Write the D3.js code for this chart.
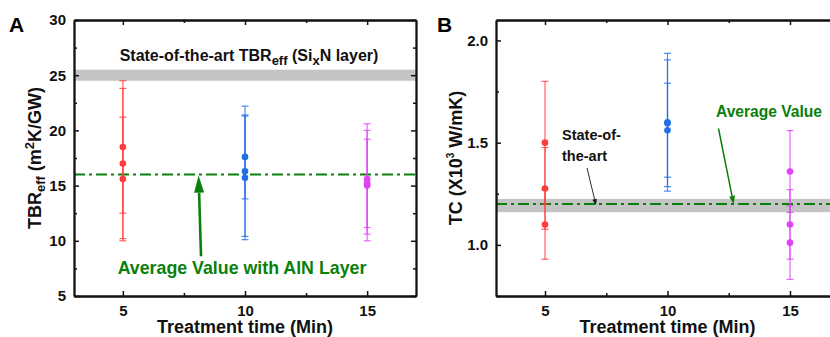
<!DOCTYPE html>
<html><head><meta charset="utf-8">
<script src="https://cdn.jsdelivr.net/npm/d3@7"></script>
<style>
html,body{margin:0;padding:0;background:#fff;}
svg{display:block;font-family:"Liberation Sans",Arial,sans-serif;font-weight:bold;}
</style></head>
<body><svg id="c" width="830" height="337"></svg>
<script>
// ---- data ----
const times = [5, 10, 15];
const seriesNames = ["red", "blue", "magenta"];
// Panel A: TBR_eff (m^2K/GW)
const tbrRed = [18.5, 17.0, 15.6];
const tbrRedErr = [6.0, 6.8, 5.6];
const tbrBlue = [17.6, 16.3, 15.7];
const tbrBlueErr = [3.8, 5.9, 5.6];
const tbrMagenta = [15.6, 15.0, 15.2];
const tbrMagentaErr = [5.0, 5.0, 4.0];
const tbrAverage = 16.0;
const tbrStateBand = [24.5, 25.5];
const tbrTicks = [5, 10, 15, 20, 25, 30];
const tbrMinorTicks = [7.5, 12.5, 17.5, 22.5, 27.5];
// Panel B: TC (x10^3 W/mK)
const tcRed = [1.50, 1.276, 1.10];
const tcRedErr = [0.30, 0.20, 0.17];
const tcBlue = [1.60, 1.561, 1.595];
const tcBlueErr = [0.337, 0.23, 0.31];
const tcMagenta = [1.359, 1.10, 1.011];
const tcMagentaErr = [0.20, 0.17, 0.18];
const tcAverage = 1.20;
const tcStateBand = [1.16, 1.225];
const tcTicks = [1.0, 1.5, 2.0];
const tcMinorTicks = [0.75, 1.25, 1.75];
const xTicks = [5, 10, 15];
const xMinorTicks = [7.5, 12.5];

const colors = {red: "#ff3b3b", blue: "#1f6fe6", magenta: "#e042f5"};
const green = "#0a800a";

const svg = d3.select("#c");

function panel(opts) {
  const g = svg.append("g");
  const x = d3.scaleLinear().domain([3, 17]).range(opts.xr);
  const y = d3.scaleLinear().domain(opts.yd).range([296, 20]);
  const [x0, x1] = opts.xr;
  // clip
  const cid = "clip" + opts.id;
  svg.append("clipPath").attr("id", cid).append("rect")
    .attr("x", x0).attr("y", 20).attr("width", x1 - x0).attr("height", 276);
  const pg = g.append("g").attr("clip-path", `url(#${cid})`);
  // band
  pg.append("rect").attr("x", x0).attr("width", x1 - x0)
    .attr("y", y(opts.band[1])).attr("height", y(opts.band[0]) - y(opts.band[1]))
    .attr("fill", "#c4c4c4");
  // avg line
  pg.append("line").attr("x1", x0).attr("x2", x1)
    .attr("y1", y(opts.avg)).attr("y2", y(opts.avg))
    .attr("stroke", green).attr("stroke-width", 2).attr("stroke-dasharray", "11,4,3,4");
  // series
  opts.series.forEach(s => {
    const xv = s.x;
    s.vals.forEach((v, i) => {
      const e = s.errs[i];
      const eg = pg.append("g").attr("stroke", colors[s.c]).attr("stroke-width", 1.2).attr("stroke-opacity", 0.8);
      eg.append("line").attr("x1", x(xv)).attr("x2", x(xv)).attr("y1", y(v - e)).attr("y2", y(v + e));
      [v - e, v + e].forEach(c => eg.append("line").attr("x1", x(xv) - 3.5).attr("x2", x(xv) + 3.5).attr("y1", y(c)).attr("y2", y(c)));
    });
    s.vals.forEach(v => {
      pg.append("circle").attr("cx", x(xv)).attr("cy", y(v)).attr("r", 3.3).attr("fill", colors[s.c]);
    });
  });
  // axes
  const axG = g.append("g").attr("font-family", null);
  const mk = (ax, tr) => {
    const a = axG.append("g").attr("transform", tr).call(ax);
    a.select(".domain").attr("stroke", "#111").attr("stroke-width", 1.8);
    a.selectAll(".tick line").attr("stroke", "#111").attr("stroke-width", 1.5);
    a.selectAll("text").attr("font-size", 15).attr("font-weight", "bold").attr("fill", "#111")
      .attr("font-family", "Liberation Sans, Arial, sans-serif");
    return a;
  };
  mk(d3.axisLeft(y).tickValues(opts.yTicks).tickSizeInner(-5).tickSizeOuter(0).tickPadding(8).tickFormat(opts.yFmt), `translate(${x0},0)`);
  mk(d3.axisLeft(y).tickValues(opts.yMinor).tickSizeInner(-3).tickSizeOuter(0).tickFormat(""), `translate(${x0},0)`);
  mk(d3.axisRight(y).tickValues(opts.yTicks).tickSizeInner(-5).tickSizeOuter(0).tickFormat(""), `translate(${x1},0)`);
  mk(d3.axisRight(y).tickValues(opts.yMinor).tickSizeInner(-3).tickSizeOuter(0).tickFormat(""), `translate(${x1},0)`);
  const xb = mk(d3.axisBottom(x).tickValues(xTicks).tickSizeInner(-5).tickSizeOuter(0).tickPadding(9).tickFormat(d3.format("d")), `translate(0,296)`);
  mk(d3.axisBottom(x).tickValues(xMinorTicks).tickSizeInner(-3).tickSizeOuter(0).tickFormat(""), `translate(0,296)`);
  mk(d3.axisTop(x).tickValues(xTicks).tickSizeInner(-5).tickSizeOuter(0).tickFormat(""), `translate(0,20)`);
  mk(d3.axisTop(x).tickValues(xMinorTicks).tickSizeInner(-3).tickSizeOuter(0).tickFormat(""), `translate(0,20)`);
  // x title
  g.append("text").attr("x", (x(5) + x(15)) / 2).attr("y", 333).attr("text-anchor", "middle")
    .attr("font-size", 18).attr("fill", "#111").text("Treatment time (Min)");
  // panel letter
  g.append("text").attr("x", opts.letterX).attr("y", 32).attr("font-size", 21).attr("fill", "#000").text(opts.letter);
  return {g, x, y};
}

// ---------- Panel A ----------
const A = panel({
  id: "A", xr: [74, 416], yd: [5, 30], band: tbrStateBand, avg: tbrAverage,
  yTicks: tbrTicks, yMinor: tbrMinorTicks, yFmt: d3.format("d"), letter: "A", letterX: 9,
  series: [
    {x: times[0], c: seriesNames[0], vals: tbrRed, errs: tbrRedErr},
    {x: times[1], c: seriesNames[1], vals: tbrBlue, errs: tbrBlueErr},
    {x: times[2], c: seriesNames[2], vals: tbrMagenta, errs: tbrMagentaErr}
  ]
});
// y title A
{
  const t = A.g.append("text").attr("transform", "translate(41,158) rotate(-90)")
    .attr("text-anchor", "middle").attr("font-size", 18).attr("fill", "#111");
  t.append("tspan").text("TBR");
  t.append("tspan").attr("font-size", 13).attr("dy", 4).text("eff");
  t.append("tspan").attr("dy", -4).text(" (m");
  t.append("tspan").attr("font-size", 13).attr("dy", -7).text("2");
  t.append("tspan").attr("dy", 7).text("K/GW)");
}
// State-of-the-art label A
{
  const t = A.g.append("text").attr("x", 249).attr("y", 61).attr("text-anchor", "middle")
    .attr("font-size", 16).attr("fill", "#111");
  t.append("tspan").text("State-of-the-art TBR");
  t.append("tspan").attr("font-size", 13).attr("dy", 4).text("eff");
  t.append("tspan").attr("dy", -4).text(" (Si");
  t.append("tspan").attr("font-size", 13).attr("dy", 4).text("x");
  t.append("tspan").attr("dy", -4).text("N layer)");
}
// Average label A + arrow
A.g.append("text").attr("x", 242).attr("y", 274).attr("text-anchor", "middle")
  .attr("font-size", 17.8).attr("fill", green).text("Average Value with AlN Layer");
{
  const x1 = A.x(8.2), y1 = A.y(8.6), x2 = A.x(8.1), y2 = A.y(tbrAverage) + 1;
  const ang = Math.atan2(y2 - y1, x2 - x1);
  const L = 17, W = 5;
  const bx = x2 - L * Math.cos(ang), by = y2 - L * Math.sin(ang);
  A.g.append("line").attr("x1", x1).attr("y1", y1).attr("x2", bx).attr("y2", by)
    .attr("stroke", green).attr("stroke-width", 2.6);
  A.g.append("path").attr("d", `M${x2},${y2}L${bx + W * Math.sin(ang)},${by - W * Math.cos(ang)}L${bx - W * Math.sin(ang)},${by + W * Math.cos(ang)}Z`)
    .attr("fill", green);
}

// ---------- Panel B ----------
const B = panel({
  id: "B", xr: [496, 839], yd: [0.75, 2.1], band: tcStateBand, avg: tcAverage,
  yTicks: tcTicks, yMinor: tcMinorTicks, yFmt: d3.format(".1f"), letter: "B", letterX: 437,
  series: [
    {x: times[0], c: seriesNames[0], vals: tcRed, errs: tcRedErr},
    {x: times[1], c: seriesNames[1], vals: tcBlue, errs: tcBlueErr},
    {x: times[2], c: seriesNames[2], vals: tcMagenta, errs: tcMagentaErr}
  ]
});
{
  const t = B.g.append("text").attr("transform", "translate(462,158) rotate(-90)")
    .attr("text-anchor", "middle").attr("font-size", 18).attr("fill", "#111");
  t.append("tspan").text("TC (X10");
  t.append("tspan").attr("font-size", 10).attr("dy", -8).text("3");
  t.append("tspan").attr("dy", 8).text(" W/mK)");
}
{
  const t = B.g.append("text").attr("x", 562).attr("y", 140).attr("font-size", 14.5).attr("fill", "#111");
  t.append("tspan").text("State-of-");
  t.append("tspan").attr("x", 562).attr("y", 161).text("the-art");
}
B.g.append("text").attr("x", 716).attr("y", 117).attr("font-size", 15.6).attr("fill", green).text("Average Value");

function thinArrow(g, x1, y1, x2, y2, col, sw, L, W) {
  const ang = Math.atan2(y2 - y1, x2 - x1);
  const bx = x2 - L * Math.cos(ang), by = y2 - L * Math.sin(ang);
  g.append("line").attr("x1", x1).attr("y1", y1).attr("x2", bx).attr("y2", by)
    .attr("stroke", col).attr("stroke-width", sw);
  g.append("path").attr("d", `M${x2},${y2}L${bx + W * Math.sin(ang)},${by - W * Math.cos(ang)}L${bx - W * Math.sin(ang)},${by + W * Math.cos(ang)}Z`)
    .attr("fill", col);
}
thinArrow(B.g, 587, 168, B.x(7.08), B.y(tcAverage) + 1, "#111", 0.9, 6, 2.3);
thinArrow(B.g, 718.5, 128.5, B.x(12.7), B.y(tcAverage), green, 1.5, 8, 3);
</script></body></html>
